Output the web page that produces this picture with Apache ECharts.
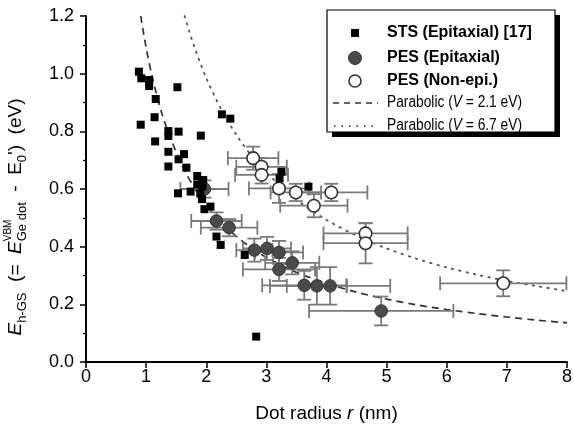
<!DOCTYPE html>
<html><head><meta charset="utf-8">
<script src="https://cdn.jsdelivr.net/npm/echarts@6/dist/echarts.min.js"></script>
<style>html,body{margin:0;padding:0;background:#fff}#c{width:573px;height:425px}</style>
</head><body><div id="c"></div>
<script>
// ---- data ----
const xTicks = [0, 1, 2, 3, 4, 5, 6, 7, 8];
const yTicks = [0.0, 0.2, 0.4, 0.6, 0.8, 1.0, 1.2];

// STS (Epitaxial) [17]
const stsR = [0.88,0.92,1.05,1.05,1.52,1.16,1.14,0.91,1.37,1.54,1.91,1.37,1.15,1.37,1.63,1.54,1.37,1.67,2.26,2.40,1.85,1.95,1.85,1.53,1.74,1.90,1.93,1.97,2.07,3.25,3.22,3.70,2.17,2.24,2.64,2.83,1.94];
const stsE = [1.007,0.984,0.978,0.957,0.953,0.912,0.849,0.823,0.801,0.799,0.785,0.784,0.765,0.729,0.721,0.703,0.678,0.674,0.859,0.844,0.645,0.631,0.616,0.585,0.591,0.585,0.565,0.530,0.539,0.660,0.637,0.608,0.435,0.406,0.371,0.088,0.609];

// PES (Epitaxial)
const pesEpiR    = [1.97,2.17,2.38,2.80,3.01,3.21,3.43,3.21,3.63,3.84,4.06,4.91];
const pesEpiE    = [0.600,0.489,0.466,0.388,0.394,0.380,0.344,0.321,0.266,0.264,0.264,0.177];
const pesEpiRErr = [0.40,0.42,0.47,0.30,0.40,0.40,0.45,0.60,0.70,0.50,1.00,1.20];
const pesEpiEErr = [0.03,0.03,0.03,0.04,0.04,0.04,0.04,0.04,0.05,0.065,0.065,0.05];

// PES (Non-epi.)
const pesNonR    = [2.78,2.92,2.92,3.21,3.49,4.08,3.79,4.65,4.65,6.94];
const pesNonE    = [0.707,0.677,0.649,0.602,0.588,0.588,0.542,0.446,0.412,0.273];
const pesNonRErr = [0.42,0.42,0.44,0.50,0.42,0.60,0.56,0.70,0.70,1.05];
const pesNonEErr = [0.04,0.03,0.03,0.05,0.03,0.03,0.04,0.035,0.07,0.045];

// Parabolic (V = 2.1 eV) curve
const fit21R = [0.91,1.0,1.1,1.25,1.4,1.6,1.8,2.0,2.25,2.5,2.75,3.0,3.5,4.0,4.5,5.0,5.5,6.0,6.5,7.0,7.5,8.0];
const fit21E = [1.20,1.09,0.99,0.87,0.78,0.68,0.605,0.545,0.485,0.436,0.396,0.363,0.311,0.273,0.242,0.218,0.198,0.182,0.168,0.156,0.145,0.136];
// Parabolic (V = 6.7 eV) curve
const fit67R = [1.64,1.8,2.0,2.25,2.5,2.75,3.0,3.5,4.0,4.5,5.0,5.5,6.0,6.5,7.0,7.5,8.0];
const fit67E = [1.20,1.094,0.985,0.876,0.788,0.716,0.657,0.563,0.493,0.438,0.394,0.358,0.328,0.303,0.281,0.263,0.246];

const legendLabels = ['STS (Epitaxial) [17]', 'PES (Epitaxial)', 'PES (Non-epi.)'];

// ---- build ----
const FONT = '"Liberation Sans", Arial, sans-serif';
const zip = (a, b) => a.map((v, i) => [v, b[i]]);
const zip4 = (a, b, c, d) => a.map((v, i) => [v, b[i], c[i], d[i]]);

function errRender(params, api) {
  const x = api.value(0), y = api.value(1), xe = api.value(2), ye = api.value(3);
  const l = api.coord([x - xe, y]), r = api.coord([x + xe, y]);
  const t = api.coord([x, y + ye]), b = api.coord([x, y - ye]);
  const cap = 7;
  const style = { stroke: '#7a7a7a', lineWidth: 1.8 };
  const ln = (x1, y1, x2, y2) => ({ type: 'line', shape: { x1, y1, x2, y2 }, style });
  return { type: 'group', children: [
    ln(l[0], l[1], r[0], r[1]),
    ln(l[0], l[1] - cap, l[0], l[1] + cap),
    ln(r[0], r[1] - cap, r[0], r[1] + cap),
    ln(t[0], t[1], b[0], b[1]),
    ln(t[0] - cap, t[1], t[0] + cap, t[1]),
    ln(b[0] - cap, b[1], b[0] + cap, b[1])
  ]};
}

// y-axis title pieces, laid out along the rotated baseline
const mctx = document.createElement('canvas').getContext('2d');
function tw(text, font) { mctx.font = font; return mctx.measureText(text).width; }
const MS = 19, SS = 13, PS = 10;
const pieces = [
  { t: 'E', f: 'italic ' + MS + 'px ' + FONT, dy: 0 },
  { t: 'h-GS', f: SS + 'px ' + FONT, dy: 6 },
  { t: '  (=  ', f: MS + 'px ' + FONT, dy: 0 },
  { t: 'E', f: 'italic ' + MS + 'px ' + FONT, dy: 0 },
  { stack: [ { t: 'VBM', f: PS + 'px ' + FONT, dy: -8 }, { t: 'Ge dot', f: SS + 'px ' + FONT, dy: 6 } ] },
  { t: '  -  E', f: MS + 'px ' + FONT, dy: 0 },
  { t: '0', f: SS + 'px ' + FONT, dy: 6 },
  { t: '\')  (eV)', f: MS + 'px ' + FONT, dy: 0 }
];
const titleChildren = [];
let pos = 0;
pieces.forEach(p => {
  const items = p.stack ? p.stack : [p];
  let adv = 0;
  items.forEach(it => {
    titleChildren.push({ type: 'text', x: pos, y: it.dy,
      style: { text: it.t, font: it.f, fill: '#000', textAlign: 'left', textVerticalAlign: 'middle', align: 'left', verticalAlign: 'middle' } });
    adv = Math.max(adv, tw(it.t, it.f));
  });
  pos += adv;
});
const titleLen = pos;

const legendX = 327, legendY = 10, legendW = 228, legendH = 122;
const rowY = [33, 58, 81, 103, 126];
const symX = 355, txtX = 387;

const chart = echarts.init(document.getElementById('c'), null, { renderer: 'canvas' });
chart.setOption({
  animation: false,
  backgroundColor: '#fff',
  grid: { left: 86, top: 16, width: 481, height: 346, containLabel: false, outerBoundsMode: 'none' },
  xAxis: {
    type: 'value', min: xTicks[0], max: xTicks[xTicks.length - 1], interval: 1,
    axisLine: { show: true, onZero: false, lineStyle: { color: '#000', width: 2 } },
    axisTick: { show: true, length: 6, lineStyle: { color: '#000', width: 1.5 } },
    splitLine: { show: false },
    axisLabel: { color: '#000', fontSize: 18, fontFamily: FONT, margin: 6, showMinLabel: true, showMaxLabel: true, hideOverlap: false },
    name: '{a|Dot radius }{i|r}{a| (nm)}',
    nameLocation: 'middle', nameGap: 42,
    nameTextStyle: { rich: {
      a: { fontSize: 19, fontFamily: FONT, color: '#000' },
      i: { fontSize: 19, fontFamily: FONT, color: '#000', fontStyle: 'italic' } } }
  },
  yAxis: {
    type: 'value', min: yTicks[0], max: yTicks[yTicks.length - 1], interval: 0.2,
    axisLine: { show: true, onZero: false, lineStyle: { color: '#000', width: 2 } },
    axisTick: { show: true, length: 6, lineStyle: { color: '#000', width: 1.5 } },
    minorTick: { show: true, splitNumber: 2, length: 3, lineStyle: { color: '#000', width: 1.2 } },
    splitLine: { show: false }, minorSplitLine: { show: false },
    axisLabel: { color: '#000', fontSize: 18, fontFamily: FONT, margin: 12, formatter: v => v.toFixed(1), showMinLabel: true, showMaxLabel: true, hideOverlap: false }
  },
  series: [
    { type: 'line', name: 'Parabolic (V = 2.1 eV)', data: zip(fit21R, fit21E), showSymbol: false, symbol: 'none', smooth: 0.3,
      lineStyle: { color: '#333', width: 1.7, type: [7, 5] }, z: 1 },
    { type: 'line', name: 'Parabolic (V = 6.7 eV)', data: zip(fit67R, fit67E), showSymbol: false, symbol: 'none', smooth: 0.3,
      lineStyle: { color: '#555', width: 1.8, type: [1.5, 6], cap: 'round' }, z: 1 },
    { type: 'custom', name: 'err-epi', renderItem: errRender, data: zip4(pesEpiR, pesEpiE, pesEpiRErr, pesEpiEErr), encode: { x: 0, y: 1 }, z: 2 },
    { type: 'custom', name: 'err-non', renderItem: errRender, data: zip4(pesNonR, pesNonE, pesNonRErr, pesNonEErr), encode: { x: 0, y: 1 }, z: 2 },
    { type: 'scatter', name: legendLabels[1], data: zip(pesEpiR, pesEpiE), symbol: 'circle', symbolSize: 12.5,
      itemStyle: { color: '#4a4a4a', borderColor: '#333', borderWidth: 1, opacity: 1 }, z: 3 },
    { type: 'scatter', name: legendLabels[2], data: zip(pesNonR, pesNonE), symbol: 'circle', symbolSize: 12.5,
      itemStyle: { color: '#fff', borderColor: '#333', borderWidth: 1.6, opacity: 1 }, z: 3 },
    { type: 'scatter', name: legendLabels[0], data: zip(stsR, stsE), symbol: 'rect', symbolSize: 8,
      itemStyle: { color: '#000', opacity: 1 }, z: 4 }
  ],
  graphic: [
    { type: 'group', rotation: Math.PI / 2, x: 16, y: 217 + titleLen / 2, children: titleChildren, z: 10 },
    { type: 'rect', shape: { x: legendX + 5, y: legendY + 5, width: legendW, height: legendH }, style: { fill: '#000' }, z: 20 },
    { type: 'rect', shape: { x: legendX, y: legendY, width: legendW, height: legendH }, style: { fill: '#fff', stroke: '#000', lineWidth: 1.2 }, z: 21 },
    { type: 'rect', shape: { x: symX - 4, y: rowY[0] - 4, width: 8, height: 8 }, style: { fill: '#000' }, z: 22 },
    { type: 'circle', shape: { cx: symX, cy: rowY[1], r: 6.5 }, style: { fill: '#4a4a4a', stroke: '#333', lineWidth: 1 }, z: 22 },
    { type: 'circle', shape: { cx: symX, cy: rowY[2], r: 6 }, style: { fill: '#fff', stroke: '#333', lineWidth: 1.6 }, z: 22 },
    { type: 'line', shape: { x1: 333, y1: rowY[3], x2: 378, y2: rowY[3] }, style: { stroke: '#333', lineWidth: 1.7, lineDash: [6, 5] }, z: 22 },
    { type: 'line', shape: { x1: 334, y1: rowY[4], x2: 378, y2: rowY[4] }, style: { stroke: '#555', lineWidth: 1.8, lineDash: [1.5, 6] }, z: 22 },
    { type: 'text', x: txtX, y: rowY[0], style: { text: legendLabels[0], font: 'bold 16px ' + FONT, fill: '#000', textVerticalAlign: 'middle', verticalAlign: 'middle' }, z: 22 },
    { type: 'text', x: txtX, y: rowY[1], style: { text: legendLabels[1], font: 'bold 16px ' + FONT, fill: '#000', textVerticalAlign: 'middle', verticalAlign: 'middle' }, z: 22 },
    { type: 'text', x: txtX, y: rowY[2], style: { text: legendLabels[2], font: 'bold 16px ' + FONT, fill: '#000', textVerticalAlign: 'middle', verticalAlign: 'middle' }, z: 22 },
    { type: 'text', x: txtX, y: rowY[3], scaleX: 0.86, style: { text: 'Parabolic ({i|V} = 2.1 eV)', font: '16px ' + FONT, fill: '#000', textVerticalAlign: 'middle', verticalAlign: 'middle',
        rich: { i: { fontStyle: 'italic', fontSize: 16, fontFamily: FONT } } }, z: 22 },
    { type: 'text', x: txtX, y: rowY[4], scaleX: 0.86, style: { text: 'Parabolic ({i|V} = 6.7 eV)', font: '16px ' + FONT, fill: '#000', textVerticalAlign: 'middle', verticalAlign: 'middle',
        rich: { i: { fontStyle: 'italic', fontSize: 16, fontFamily: FONT } } }, z: 22 }
  ]
});
</script></body></html>
